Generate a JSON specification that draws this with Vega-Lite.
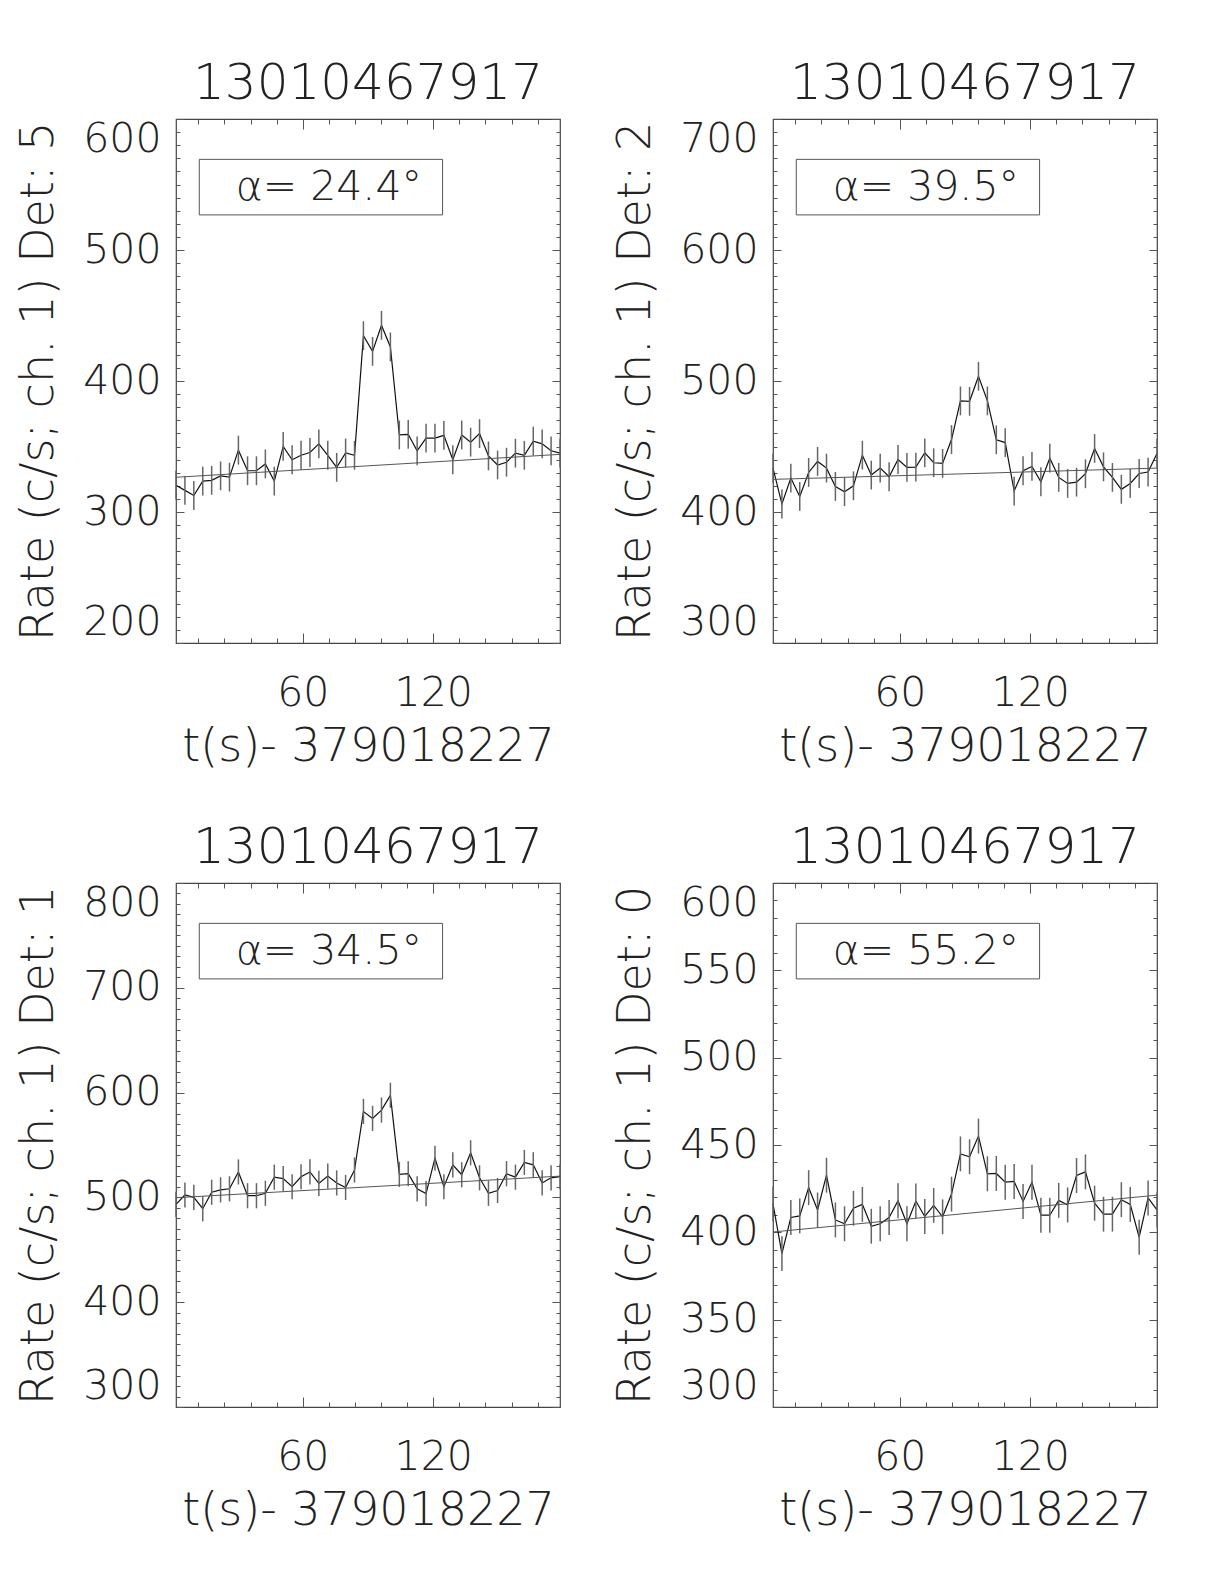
{
"$schema": "https://vega.github.io/schema/vega-lite/v6.json",
"padding": {"left": 15, "top": 58, "right": 0, "bottom": 0},
"background": "white",
"datasets": {
"obs": [
{"det":5,"t":1.7,"rate":320.5,"err":11},{"det":5,"t":5.8,"rate":316.5,"err":11},{"det":5,"t":9.9,"rate":312.6,"err":11},{"det":5,"t":14.0,"rate":323.6,"err":11},{"det":5,"t":18.1,"rate":324.2,"err":11},{"det":5,"t":22.2,"rate":327.6,"err":11},{"det":5,"t":26.3,"rate":326.6,"err":11},{"det":5,"t":30.4,"rate":347.2,"err":11},{"det":5,"t":34.6,"rate":331.5,"err":11},{"det":5,"t":38.7,"rate":331.5,"err":11},{"det":5,"t":42.8,"rate":336.7,"err":11},{"det":5,"t":46.9,"rate":323.6,"err":11},{"det":5,"t":51.0,"rate":350.1,"err":11},{"det":5,"t":55.1,"rate":339.9,"err":11},{"det":5,"t":59.2,"rate":343.3,"err":11},{"det":5,"t":63.3,"rate":345.4,"err":11},{"det":5,"t":67.4,"rate":352.0,"err":11},{"det":5,"t":71.5,"rate":343.3,"err":11},{"det":5,"t":75.6,"rate":334.1,"err":11},{"det":5,"t":79.7,"rate":345.1,"err":11},{"det":5,"t":83.8,"rate":343.3,"err":11},{"det":5,"t":87.9,"rate":434.6,"err":11},{"det":5,"t":92.1,"rate":422.6,"err":11},{"det":5,"t":96.2,"rate":442.5,"err":11},{"det":5,"t":100.3,"rate":426.0,"err":11},{"det":5,"t":104.4,"rate":358.8,"err":11},{"det":5,"t":108.5,"rate":359.3,"err":11},{"det":5,"t":112.6,"rate":346.7,"err":11},{"det":5,"t":116.7,"rate":356.4,"err":11},{"det":5,"t":120.8,"rate":356.4,"err":11},{"det":5,"t":124.9,"rate":358.5,"err":11},{"det":5,"t":129.0,"rate":339.9,"err":11},{"det":5,"t":133.1,"rate":358.8,"err":11},{"det":5,"t":137.2,"rate":353.3,"err":11},{"det":5,"t":141.3,"rate":359.8,"err":11},{"det":5,"t":145.4,"rate":342.8,"err":11},{"det":5,"t":149.6,"rate":335.9,"err":11},{"det":5,"t":153.7,"rate":338.0,"err":11},{"det":5,"t":157.8,"rate":344.9,"err":11},{"det":5,"t":161.9,"rate":343.3,"err":11},{"det":5,"t":166.0,"rate":354.1,"err":11},{"det":5,"t":170.1,"rate":352.0,"err":11},{"det":5,"t":174.2,"rate":346.7,"err":11},{"det":5,"t":178.3,"rate":344.9,"err":11},
{"det":2,"t":1.7,"rate":433.5,"err":11},{"det":2,"t":5.8,"rate":406.1,"err":11},{"det":2,"t":9.9,"rate":425.9,"err":11},{"det":2,"t":14.0,"rate":411.9,"err":11},{"det":2,"t":18.1,"rate":430.2,"err":11},{"det":2,"t":22.2,"rate":438.6,"err":11},{"det":2,"t":26.3,"rate":433.5,"err":11},{"det":2,"t":30.4,"rate":419.5,"err":11},{"det":2,"t":34.6,"rate":415.5,"err":11},{"det":2,"t":38.7,"rate":420.0,"err":11},{"det":2,"t":42.8,"rate":443.4,"err":11},{"det":2,"t":46.9,"rate":428.2,"err":11},{"det":2,"t":51.0,"rate":433.5,"err":11},{"det":2,"t":55.1,"rate":426.9,"err":11},{"det":2,"t":59.2,"rate":440.1,"err":11},{"det":2,"t":63.3,"rate":434.0,"err":11},{"det":2,"t":67.4,"rate":434.3,"err":11},{"det":2,"t":71.5,"rate":445.2,"err":11},{"det":2,"t":75.6,"rate":437.6,"err":11},{"det":2,"t":79.7,"rate":437.1,"err":11},{"det":2,"t":83.8,"rate":455.3,"err":11},{"det":2,"t":87.9,"rate":484.8,"err":11},{"det":2,"t":92.1,"rate":484.5,"err":11},{"det":2,"t":96.2,"rate":503.6,"err":11},{"det":2,"t":100.3,"rate":484.8,"err":11},{"det":2,"t":104.4,"rate":455.1,"err":11},{"det":2,"t":108.5,"rate":453.0,"err":11},{"det":2,"t":112.6,"rate":416.0,"err":11},{"det":2,"t":116.7,"rate":431.5,"err":11},{"det":2,"t":120.8,"rate":434.8,"err":11},{"det":2,"t":124.9,"rate":423.1,"err":11},{"det":2,"t":129.0,"rate":441.1,"err":11},{"det":2,"t":133.1,"rate":426.4,"err":11},{"det":2,"t":137.2,"rate":421.8,"err":11},{"det":2,"t":141.3,"rate":422.8,"err":11},{"det":2,"t":145.4,"rate":429.2,"err":11},{"det":2,"t":149.6,"rate":448.5,"err":11},{"det":2,"t":153.7,"rate":434.5,"err":11},{"det":2,"t":157.8,"rate":426.4,"err":11},{"det":2,"t":161.9,"rate":417.3,"err":11},{"det":2,"t":166.0,"rate":421.8,"err":11},{"det":2,"t":170.1,"rate":429.4,"err":11},{"det":2,"t":174.2,"rate":430.5,"err":11},{"det":2,"t":178.3,"rate":444.7,"err":11},
{"det":1,"t":1.7,"rate":493.4,"err":12},{"det":1,"t":5.8,"rate":502.3,"err":12},{"det":1,"t":9.9,"rate":500.0,"err":12},{"det":1,"t":14.0,"rate":489.2,"err":12},{"det":1,"t":18.1,"rate":504.9,"err":12},{"det":1,"t":22.2,"rate":507.2,"err":12},{"det":1,"t":26.3,"rate":508.2,"err":12},{"det":1,"t":30.4,"rate":524.3,"err":12},{"det":1,"t":34.6,"rate":501.6,"err":12},{"det":1,"t":38.7,"rate":501.6,"err":12},{"det":1,"t":42.8,"rate":503.9,"err":12},{"det":1,"t":46.9,"rate":519.3,"err":12},{"det":1,"t":51.0,"rate":518.0,"err":12},{"det":1,"t":55.1,"rate":510.2,"err":12},{"det":1,"t":59.2,"rate":519.7,"err":12},{"det":1,"t":63.3,"rate":524.3,"err":12},{"det":1,"t":67.4,"rate":513.4,"err":12},{"det":1,"t":71.5,"rate":520.3,"err":12},{"det":1,"t":75.6,"rate":513.8,"err":12},{"det":1,"t":79.7,"rate":509.5,"err":12},{"det":1,"t":83.8,"rate":526.2,"err":12},{"det":1,"t":87.9,"rate":582.0,"err":12},{"det":1,"t":92.1,"rate":575.4,"err":12},{"det":1,"t":96.2,"rate":583.3,"err":12},{"det":1,"t":100.3,"rate":597.4,"err":12},{"det":1,"t":104.4,"rate":522.0,"err":12},{"det":1,"t":108.5,"rate":522.6,"err":12},{"det":1,"t":112.6,"rate":508.2,"err":12},{"det":1,"t":116.7,"rate":503.6,"err":12},{"det":1,"t":120.8,"rate":537.4,"err":12},{"det":1,"t":124.9,"rate":510.2,"err":12},{"det":1,"t":129.0,"rate":531.1,"err":12},{"det":1,"t":133.1,"rate":521.6,"err":12},{"det":1,"t":137.2,"rate":542.6,"err":12},{"det":1,"t":141.3,"rate":518.7,"err":12},{"det":1,"t":145.4,"rate":503.9,"err":12},{"det":1,"t":149.6,"rate":506.6,"err":12},{"det":1,"t":153.7,"rate":522.6,"err":12},{"det":1,"t":157.8,"rate":519.3,"err":12},{"det":1,"t":161.9,"rate":533.4,"err":12},{"det":1,"t":166.0,"rate":531.1,"err":12},{"det":1,"t":170.1,"rate":513.8,"err":12},{"det":1,"t":174.2,"rate":518.7,"err":12},{"det":1,"t":178.3,"rate":519.7,"err":12},
{"det":0,"t":1.7,"rate":416.3,"err":10},{"det":0,"t":5.8,"rate":387.8,"err":10},{"det":0,"t":9.9,"rate":408.5,"err":10},{"det":0,"t":14.0,"rate":409.4,"err":10},{"det":0,"t":18.1,"rate":425.6,"err":10},{"det":0,"t":22.2,"rate":412.8,"err":10},{"det":0,"t":26.3,"rate":432.7,"err":10},{"det":0,"t":30.4,"rate":407.1,"err":10},{"det":0,"t":34.6,"rate":404.9,"err":10},{"det":0,"t":38.7,"rate":413.8,"err":10},{"det":0,"t":42.8,"rate":416.0,"err":10},{"det":0,"t":46.9,"rate":403.5,"err":10},{"det":0,"t":51.0,"rate":404.9,"err":10},{"det":0,"t":55.1,"rate":408.5,"err":10},{"det":0,"t":59.2,"rate":418.1,"err":10},{"det":0,"t":63.3,"rate":404.9,"err":10},{"det":0,"t":67.4,"rate":417.9,"err":10},{"det":0,"t":71.5,"rate":409.1,"err":10},{"det":0,"t":75.6,"rate":415.4,"err":10},{"det":0,"t":79.7,"rate":408.9,"err":10},{"det":0,"t":83.8,"rate":421.9,"err":10},{"det":0,"t":87.9,"rate":444.9,"err":10},{"det":0,"t":92.1,"rate":443.3,"err":10},{"det":0,"t":96.2,"rate":455.1,"err":10},{"det":0,"t":100.3,"rate":433.5,"err":10},{"det":0,"t":104.4,"rate":433.7,"err":10},{"det":0,"t":108.5,"rate":428.7,"err":10},{"det":0,"t":112.6,"rate":429.1,"err":10},{"det":0,"t":116.7,"rate":417.7,"err":10},{"det":0,"t":120.8,"rate":428.7,"err":10},{"det":0,"t":124.9,"rate":409.8,"err":10},{"det":0,"t":129.0,"rate":409.8,"err":10},{"det":0,"t":133.1,"rate":418.3,"err":10},{"det":0,"t":137.2,"rate":415.7,"err":10},{"det":0,"t":141.3,"rate":432.5,"err":10},{"det":0,"t":145.4,"rate":434.6,"err":10},{"det":0,"t":149.6,"rate":416.7,"err":10},{"det":0,"t":153.7,"rate":410.4,"err":10},{"det":0,"t":157.8,"rate":410.4,"err":10},{"det":0,"t":161.9,"rate":418.7,"err":10},{"det":0,"t":166.0,"rate":416.0,"err":10},{"det":0,"t":170.1,"rate":397.2,"err":10},{"det":0,"t":174.2,"rate":419.7,"err":10},{"det":0,"t":178.3,"rate":412.8,"err":10}
],
"fit": [
{"det":5,"t":1.7,"rate":326.5},{"det":5,"t":178.3,"rate":344.0},
{"det":2,"t":1.7,"rate":424.9},{"det":2,"t":178.3,"rate":433.5},
{"det":1,"t":1.7,"rate":499.7},{"det":1,"t":178.3,"rate":520.3},
{"det":0,"t":1.7,"rate":400.2},{"det":0,"t":178.3,"rate":421.3}
],
"boxes": [
{"det":5,"label":"α= 24.4°"},{"det":2,"label":"α= 39.5°"},{"det":1,"label":"α= 34.5°"},{"det":0,"label":"α= 55.2°"}
]
},
"columns": 2,
"spacing": {"row": 52, "column": 49},
"concat": [
{
"title": "13010467917", "width": 384, "height": 524,
"resolve": {"axis": {"x": "independent", "y": "independent"}},
"layer": [
{"data": {"name": "obs"}, "transform": [{"filter": "datum.det === 5"}],
 "mark": {"type": "line", "color": "#111", "strokeWidth": 1.2},
 "encoding": {
  "x": {"field": "t", "type": "quantitative", "scale": {"domain": [1.7, 178.3], "nice": false, "zero": false},
   "axis": {"orient": "bottom", "values": [12,24,36,48,60,72,84,96,108,120,132,144,156,168], "tickSize": {"condition": {"test": "datum.value % 60 === 0", "value": -10}, "value": -5}, "labelFontSize": {"condition": {"test": "datum.value % 60 === 0", "value": 41}, "value": 0}, "labelExpr": "datum.value % 60 === 0 ? datum.label : ''", "labelPadding": 40, "title": "t(s)- 379018227", "titlePadding": 11}},
  "y": {"field": "rate", "type": "quantitative", "scale": {"domain": [200, 600], "nice": false, "zero": false},
   "axis": {"orient": "left", "values": [200,210,220,230,240,250,260,270,280,290,300,310,320,330,340,350,360,370,380,390,400,410,420,430,440,450,460,470,480,490,500,510,520,530,540,550,560,570,580,590,600], "tickSize": {"condition": {"test": "datum.value % 100 === 0", "value": -8}, "value": -4}, "labelFontSize": {"condition": {"test": "datum.value % 100 === 0", "value": 41}, "value": 0}, "labelExpr": "datum.value % 100 === 0 ? datum.label : ''", "labelPadding": 23, "labelFlush": true, "title": "Rate (c/s; ch. 1) Det: 5", "titlePadding": 20}}
 }},
{"data": {"name": "obs"}, "transform": [{"filter": "datum.det === 5"}],
 "mark": {"type": "errorbar", "color": "#666", "thickness": 1.5},
 "encoding": {
  "x": {"field": "t", "type": "quantitative", "scale": {"domain": [1.7, 178.3], "nice": false, "zero": false}, "axis": null},
  "y": {"field": "rate", "type": "quantitative", "scale": {"domain": [200, 600], "nice": false, "zero": false}, "axis": null},
  "yError": {"field": "err"}
 }},
{"data": {"name": "fit"}, "transform": [{"filter": "datum.det === 5"}],
 "mark": {"type": "line", "color": "#555", "strokeWidth": 1},
 "encoding": {
  "x": {"field": "t", "type": "quantitative", "scale": {"domain": [1.7, 178.3], "nice": false, "zero": false},
   "axis": {"orient": "top", "values": [12,24,36,48,60,72,84,96,108,120,132,144,156,168], "tickSize": {"condition": {"test": "datum.value % 60 === 0", "value": -10}, "value": -5}, "labels": false, "title": null}},
  "y": {"field": "rate", "type": "quantitative", "scale": {"domain": [200, 600], "nice": false, "zero": false},
   "axis": {"orient": "right", "values": [200,210,220,230,240,250,260,270,280,290,300,310,320,330,340,350,360,370,380,390,400,410,420,430,440,450,460,470,480,490,500,510,520,530,540,550,560,570,580,590,600], "tickSize": {"condition": {"test": "datum.value % 100 === 0", "value": -8}, "value": -4}, "labels": false, "title": null}}
 }},
{"data": {"name": "boxes"}, "transform": [{"filter": "datum.det === 5"}],
 "mark": {"type": "rect", "filled": false, "color": "#555", "strokeWidth": 1},
 "encoding": {"x": {"datum": 12.4, "axis": null}, "x2": {"datum": 124.3}, "y": {"datum": 569.2, "axis": null}, "y2": {"datum": 526.8}}},
{"data": {"name": "boxes"}, "transform": [{"filter": "datum.det === 5"}],
 "mark": {"type": "text", "fontSize": 41, "font": "DejaVu Sans", "fontWeight": 200, "color": "#222", "align": "center", "baseline": "middle"},
 "encoding": {"x": {"datum": 72, "axis": null}, "y": {"datum": 547.5, "axis": null}, "text": {"field": "label"}}}
]
},
{
"title": "13010467917", "width": 384, "height": 524,
"resolve": {"axis": {"x": "independent", "y": "independent"}},
"layer": [
{"data": {"name": "obs"}, "transform": [{"filter": "datum.det === 2"}],
 "mark": {"type": "line", "color": "#111", "strokeWidth": 1.2},
 "encoding": {
  "x": {"field": "t", "type": "quantitative", "scale": {"domain": [1.7, 178.3], "nice": false, "zero": false},
   "axis": {"orient": "bottom", "values": [12,24,36,48,60,72,84,96,108,120,132,144,156,168], "tickSize": {"condition": {"test": "datum.value % 60 === 0", "value": -10}, "value": -5}, "labelFontSize": {"condition": {"test": "datum.value % 60 === 0", "value": 41}, "value": 0}, "labelExpr": "datum.value % 60 === 0 ? datum.label : ''", "labelPadding": 40, "title": "t(s)- 379018227", "titlePadding": 11}},
  "y": {"field": "rate", "type": "quantitative", "scale": {"domain": [300, 700], "nice": false, "zero": false},
   "axis": {"orient": "left", "values": [300,310,320,330,340,350,360,370,380,390,400,410,420,430,440,450,460,470,480,490,500,510,520,530,540,550,560,570,580,590,600,610,620,630,640,650,660,670,680,690,700], "tickSize": {"condition": {"test": "datum.value % 100 === 0", "value": -8}, "value": -4}, "labelFontSize": {"condition": {"test": "datum.value % 100 === 0", "value": 41}, "value": 0}, "labelExpr": "datum.value % 100 === 0 ? datum.label : ''", "labelPadding": 23, "labelFlush": true, "title": "Rate (c/s; ch. 1) Det: 2", "titlePadding": 20}}
 }},
{"data": {"name": "obs"}, "transform": [{"filter": "datum.det === 2"}],
 "mark": {"type": "errorbar", "color": "#666", "thickness": 1.5},
 "encoding": {
  "x": {"field": "t", "type": "quantitative", "scale": {"domain": [1.7, 178.3], "nice": false, "zero": false}, "axis": null},
  "y": {"field": "rate", "type": "quantitative", "scale": {"domain": [300, 700], "nice": false, "zero": false}, "axis": null},
  "yError": {"field": "err"}
 }},
{"data": {"name": "fit"}, "transform": [{"filter": "datum.det === 2"}],
 "mark": {"type": "line", "color": "#555", "strokeWidth": 1},
 "encoding": {
  "x": {"field": "t", "type": "quantitative", "scale": {"domain": [1.7, 178.3], "nice": false, "zero": false},
   "axis": {"orient": "top", "values": [12,24,36,48,60,72,84,96,108,120,132,144,156,168], "tickSize": {"condition": {"test": "datum.value % 60 === 0", "value": -10}, "value": -5}, "labels": false, "title": null}},
  "y": {"field": "rate", "type": "quantitative", "scale": {"domain": [300, 700], "nice": false, "zero": false},
   "axis": {"orient": "right", "values": [300,310,320,330,340,350,360,370,380,390,400,410,420,430,440,450,460,470,480,490,500,510,520,530,540,550,560,570,580,590,600,610,620,630,640,650,660,670,680,690,700], "tickSize": {"condition": {"test": "datum.value % 100 === 0", "value": -8}, "value": -4}, "labels": false, "title": null}}
 }},
{"data": {"name": "boxes"}, "transform": [{"filter": "datum.det === 2"}],
 "mark": {"type": "rect", "filled": false, "color": "#555", "strokeWidth": 1},
 "encoding": {"x": {"datum": 12.4, "axis": null}, "x2": {"datum": 124.3}, "y": {"datum": 669.2, "axis": null}, "y2": {"datum": 626.8}}},
{"data": {"name": "boxes"}, "transform": [{"filter": "datum.det === 2"}],
 "mark": {"type": "text", "fontSize": 41, "font": "DejaVu Sans", "fontWeight": 200, "color": "#222", "align": "center", "baseline": "middle"},
 "encoding": {"x": {"datum": 72, "axis": null}, "y": {"datum": 647.5, "axis": null}, "text": {"field": "label"}}}
]
},
{
"title": "13010467917", "width": 384, "height": 524,
"resolve": {"axis": {"x": "independent", "y": "independent"}},
"layer": [
{"data": {"name": "obs"}, "transform": [{"filter": "datum.det === 1"}],
 "mark": {"type": "line", "color": "#111", "strokeWidth": 1.2},
 "encoding": {
  "x": {"field": "t", "type": "quantitative", "scale": {"domain": [1.7, 178.3], "nice": false, "zero": false},
   "axis": {"orient": "bottom", "values": [12,24,36,48,60,72,84,96,108,120,132,144,156,168], "tickSize": {"condition": {"test": "datum.value % 60 === 0", "value": -10}, "value": -5}, "labelFontSize": {"condition": {"test": "datum.value % 60 === 0", "value": 41}, "value": 0}, "labelExpr": "datum.value % 60 === 0 ? datum.label : ''", "labelPadding": 40, "title": "t(s)- 379018227", "titlePadding": 11}},
  "y": {"field": "rate", "type": "quantitative", "scale": {"domain": [300, 800], "nice": false, "zero": false},
   "axis": {"orient": "left", "values": [300,310,320,330,340,350,360,370,380,390,400,410,420,430,440,450,460,470,480,490,500,510,520,530,540,550,560,570,580,590,600,610,620,630,640,650,660,670,680,690,700,710,720,730,740,750,760,770,780,790,800], "tickSize": {"condition": {"test": "datum.value % 100 === 0", "value": -8}, "value": -4}, "labelFontSize": {"condition": {"test": "datum.value % 100 === 0", "value": 41}, "value": 0}, "labelExpr": "datum.value % 100 === 0 ? datum.label : ''", "labelPadding": 23, "labelFlush": true, "title": "Rate (c/s; ch. 1) Det: 1", "titlePadding": 20}}
 }},
{"data": {"name": "obs"}, "transform": [{"filter": "datum.det === 1"}],
 "mark": {"type": "errorbar", "color": "#666", "thickness": 1.5},
 "encoding": {
  "x": {"field": "t", "type": "quantitative", "scale": {"domain": [1.7, 178.3], "nice": false, "zero": false}, "axis": null},
  "y": {"field": "rate", "type": "quantitative", "scale": {"domain": [300, 800], "nice": false, "zero": false}, "axis": null},
  "yError": {"field": "err"}
 }},
{"data": {"name": "fit"}, "transform": [{"filter": "datum.det === 1"}],
 "mark": {"type": "line", "color": "#555", "strokeWidth": 1},
 "encoding": {
  "x": {"field": "t", "type": "quantitative", "scale": {"domain": [1.7, 178.3], "nice": false, "zero": false},
   "axis": {"orient": "top", "values": [12,24,36,48,60,72,84,96,108,120,132,144,156,168], "tickSize": {"condition": {"test": "datum.value % 60 === 0", "value": -10}, "value": -5}, "labels": false, "title": null}},
  "y": {"field": "rate", "type": "quantitative", "scale": {"domain": [300, 800], "nice": false, "zero": false},
   "axis": {"orient": "right", "values": [300,310,320,330,340,350,360,370,380,390,400,410,420,430,440,450,460,470,480,490,500,510,520,530,540,550,560,570,580,590,600,610,620,630,640,650,660,670,680,690,700,710,720,730,740,750,760,770,780,790,800], "tickSize": {"condition": {"test": "datum.value % 100 === 0", "value": -8}, "value": -4}, "labels": false, "title": null}}
 }},
{"data": {"name": "boxes"}, "transform": [{"filter": "datum.det === 1"}],
 "mark": {"type": "rect", "filled": false, "color": "#555", "strokeWidth": 1},
 "encoding": {"x": {"datum": 12.4, "axis": null}, "x2": {"datum": 124.3}, "y": {"datum": 761.5, "axis": null}, "y2": {"datum": 708.5}}},
{"data": {"name": "boxes"}, "transform": [{"filter": "datum.det === 1"}],
 "mark": {"type": "text", "fontSize": 41, "font": "DejaVu Sans", "fontWeight": 200, "color": "#222", "align": "center", "baseline": "middle"},
 "encoding": {"x": {"datum": 72, "axis": null}, "y": {"datum": 734.4, "axis": null}, "text": {"field": "label"}}}
]
},
{
"title": "13010467917", "width": 384, "height": 524,
"resolve": {"axis": {"x": "independent", "y": "independent"}},
"layer": [
{"data": {"name": "obs"}, "transform": [{"filter": "datum.det === 0"}],
 "mark": {"type": "line", "color": "#111", "strokeWidth": 1.2},
 "encoding": {
  "x": {"field": "t", "type": "quantitative", "scale": {"domain": [1.7, 178.3], "nice": false, "zero": false},
   "axis": {"orient": "bottom", "values": [12,24,36,48,60,72,84,96,108,120,132,144,156,168], "tickSize": {"condition": {"test": "datum.value % 60 === 0", "value": -10}, "value": -5}, "labelFontSize": {"condition": {"test": "datum.value % 60 === 0", "value": 41}, "value": 0}, "labelExpr": "datum.value % 60 === 0 ? datum.label : ''", "labelPadding": 40, "title": "t(s)- 379018227", "titlePadding": 11}},
  "y": {"field": "rate", "type": "quantitative", "scale": {"domain": [300, 600], "nice": false, "zero": false},
   "axis": {"orient": "left", "values": [300,310,320,330,340,350,360,370,380,390,400,410,420,430,440,450,460,470,480,490,500,510,520,530,540,550,560,570,580,590,600], "tickSize": {"condition": {"test": "datum.value % 50 === 0", "value": -8}, "value": -4}, "labelFontSize": {"condition": {"test": "datum.value % 50 === 0", "value": 41}, "value": 0}, "labelExpr": "datum.value % 50 === 0 ? datum.label : ''", "labelPadding": 23, "labelFlush": true, "title": "Rate (c/s; ch. 1) Det: 0", "titlePadding": 20}}
 }},
{"data": {"name": "obs"}, "transform": [{"filter": "datum.det === 0"}],
 "mark": {"type": "errorbar", "color": "#666", "thickness": 1.5},
 "encoding": {
  "x": {"field": "t", "type": "quantitative", "scale": {"domain": [1.7, 178.3], "nice": false, "zero": false}, "axis": null},
  "y": {"field": "rate", "type": "quantitative", "scale": {"domain": [300, 600], "nice": false, "zero": false}, "axis": null},
  "yError": {"field": "err"}
 }},
{"data": {"name": "fit"}, "transform": [{"filter": "datum.det === 0"}],
 "mark": {"type": "line", "color": "#555", "strokeWidth": 1},
 "encoding": {
  "x": {"field": "t", "type": "quantitative", "scale": {"domain": [1.7, 178.3], "nice": false, "zero": false},
   "axis": {"orient": "top", "values": [12,24,36,48,60,72,84,96,108,120,132,144,156,168], "tickSize": {"condition": {"test": "datum.value % 60 === 0", "value": -10}, "value": -5}, "labels": false, "title": null}},
  "y": {"field": "rate", "type": "quantitative", "scale": {"domain": [300, 600], "nice": false, "zero": false},
   "axis": {"orient": "right", "values": [300,310,320,330,340,350,360,370,380,390,400,410,420,430,440,450,460,470,480,490,500,510,520,530,540,550,560,570,580,590,600], "tickSize": {"condition": {"test": "datum.value % 50 === 0", "value": -8}, "value": -4}, "labels": false, "title": null}}
 }},
{"data": {"name": "boxes"}, "transform": [{"filter": "datum.det === 0"}],
 "mark": {"type": "rect", "filled": false, "color": "#555", "strokeWidth": 1},
 "encoding": {"x": {"datum": 12.4, "axis": null}, "x2": {"datum": 124.3}, "y": {"datum": 576.9, "axis": null}, "y2": {"datum": 545.1}}},
{"data": {"name": "boxes"}, "transform": [{"filter": "datum.det === 0"}],
 "mark": {"type": "text", "fontSize": 41, "font": "DejaVu Sans", "fontWeight": 200, "color": "#222", "align": "center", "baseline": "middle"},
 "encoding": {"x": {"datum": 72, "axis": null}, "y": {"datum": 560.6, "axis": null}, "text": {"field": "label"}}}
]
}
],
"config": {
 "view": {"stroke": "#444", "strokeWidth": 1.2},
 "font": "DejaVu Sans",
 "axis": {"domain": false, "grid": false, "tickColor": "#555", "tickWidth": 1, "labelFont": "DejaVu Sans", "labelFontSize": 41, "labelFontWeight": 200, "labelColor": "#222", "titleFont": "DejaVu Sans", "titleFontSize": 46, "titleFontWeight": 200, "titleColor": "#222", "labelOverlap": false, "labelBound": false},
 "title": {"font": "DejaVu Sans", "fontSize": 50, "fontWeight": 200, "color": "#222", "anchor": "middle", "frame": "group", "offset": 9, "baseline": "alphabetic"}
}
}
